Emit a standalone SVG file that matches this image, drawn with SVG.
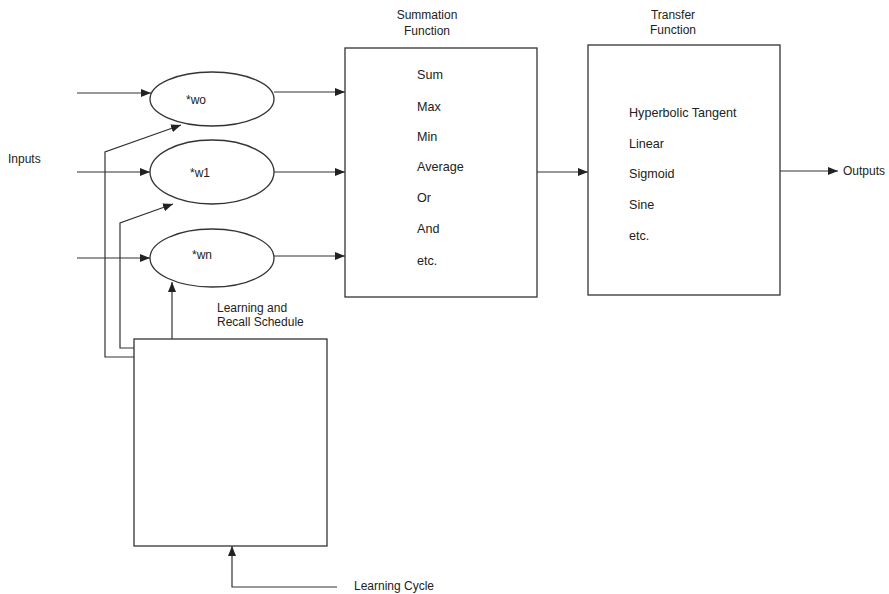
<svg xmlns="http://www.w3.org/2000/svg" width="889" height="594" viewBox="0 0 889 594">
<style>
text{font-family:"Liberation Sans",Arial,sans-serif;font-size:12px;fill:#222}
.i{font-size:12.6px}
.s{fill:none;stroke:#333;stroke-width:1.2}
.b{fill:#fff;stroke:#333;stroke-width:1.3}
</style>
<defs>
<marker id="a" viewBox="0 0 10 8" refX="10" refY="4" markerWidth="10" markerHeight="8" markerUnits="userSpaceOnUse" orient="auto">
<path d="M0,0 L10,4 L0,8 Z" fill="#222"/>
</marker>
</defs>
<rect width="889" height="594" fill="#fff"/>
<text x="8" y="163">Inputs</text>
<g id="connectors" class="s" marker-end="url(#a)">
<path d="M77,93 H151"/>
<path d="M77,172 H150"/>
<path d="M77,258 H150"/>
<path d="M274,92 H345"/>
<path d="M274,172 H345"/>
<path d="M274,256 H345"/>
<path d="M537,172 H588"/>
<path d="M780,171 H838"/>
<path d="M134,357 H105 V152 L181,125"/>
<path d="M134,348 H120 V223 L173,204"/>
<path d="M172,339 V282"/>
<path d="M337,587 H232 V546"/>
</g>
<g id="w0"><ellipse class="b" cx="212" cy="99" rx="62" ry="27"/><text x="186" y="104">*wo</text></g>
<g id="w1"><ellipse class="b" cx="212" cy="172" rx="62" ry="32"/><text x="190" y="177">*w1</text></g>
<g id="wn"><ellipse class="b" cx="212" cy="258" rx="62" ry="29"/><text x="192" y="259">*wn</text></g>
<g id="summation">
<rect class="b" x="345" y="48" width="192" height="249"/>
<text x="427" y="19" text-anchor="middle">Summation</text>
<text x="427" y="35" text-anchor="middle">Function</text>
<text class="i" x="417" y="79">Sum</text>
<text class="i" x="417" y="111">Max</text>
<text class="i" x="417" y="141">Min</text>
<text class="i" x="417" y="171">Average</text>
<text class="i" x="417" y="202">Or</text>
<text class="i" x="417" y="233">And</text>
<text class="i" x="417" y="265">etc.</text>
</g>
<g id="transfer">
<rect class="b" x="588" y="45" width="192" height="250"/>
<text x="673" y="19" text-anchor="middle">Transfer</text>
<text x="673" y="34" text-anchor="middle">Function</text>
<text class="i" x="629" y="117">Hyperbolic Tangent</text>
<text class="i" x="629" y="148">Linear</text>
<text class="i" x="629" y="178">Sigmoid</text>
<text class="i" x="629" y="209">Sine</text>
<text class="i" x="629" y="240">etc.</text>
</g>
<text x="843" y="175">Outputs</text>
<g id="schedule">
<rect class="b" x="134" y="339" width="193" height="207"/>
<text x="217" y="312">Learning and</text>
<text x="217" y="326">Recall Schedule</text>
</g>
<text x="354" y="590">Learning Cycle</text>
</svg>
